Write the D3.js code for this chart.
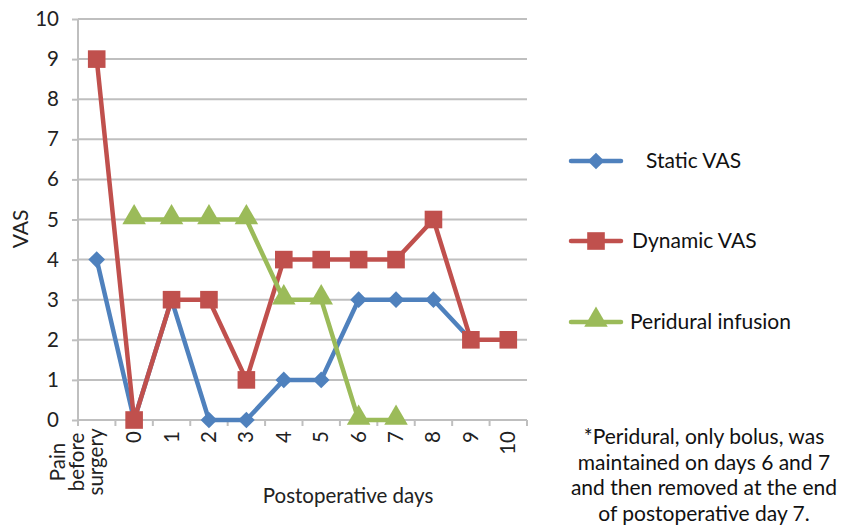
<!DOCTYPE html>
<html><head><meta charset="utf-8">
<script src="https://cdn.jsdelivr.net/npm/d3@7"></script>
<style>body{margin:0;background:#fff}svg{display:block;font-family:Lato,"Open Sans",sans-serif}</style>
</head><body><svg id="c" width="842" height="526"></svg>
<script>
const categories = ["Pain before surgery","0","1","2","3","4","5","6","7","8","9","10"];
const staticVAS   = [4,0,3,0,0,1,1,3,3,3,2,null];
const dynamicVAS  = [9,0,3,3,1,4,4,4,4,5,2,2];
const peridural   = [null,5,5,5,5,3,3,0,0,null,null,null];
const yTicks = [0,1,2,3,4,5,6,7,8,9,10];
const seriesNames = ["Static VAS","Dynamic VAS","Peridural infusion"];

const svg = d3.select("#c");
const L=78,R=527,T=19,B=420;
const x = d3.scaleBand().domain(categories).range([L,R]);
const y = d3.scaleLinear().domain([0,10]).range([B,T]);
const grid="#BFBFBF";

// gridlines
svg.append("g").selectAll("line").data(yTicks.filter(d=>d>0)).join("line")
  .attr("x1",L).attr("x2",R).attr("y1",d=>y(d)).attr("y2",d=>y(d))
  .attr("stroke",grid).attr("stroke-width",2);

// y axis
const ya = svg.append("g").attr("transform",`translate(${L},0)`)
  .call(d3.axisLeft(y).tickValues(yTicks).tickSize(6).tickPadding(13).tickFormat(d3.format("d")));
ya.select(".domain").attr("stroke",grid).attr("stroke-width",2).attr("d",`M0,${T}V${B}`);
ya.selectAll(".tick line").attr("stroke",grid).attr("stroke-width",2);
ya.selectAll("text").attr("font-size",20.5).attr("fill","#222").attr("font-family","Lato");

// x axis
const xa = svg.append("g").attr("transform",`translate(0,${B})`);
xa.append("line").attr("x1",L).attr("x2",R).attr("stroke",grid).attr("stroke-width",2);
const bounds = categories.map(c=>x(c)).concat([R]);
xa.selectAll("line.t").data(bounds).join("line").attr("class","t")
  .attr("x1",d=>d).attr("x2",d=>d).attr("y1",0).attr("y2",6).attr("stroke",grid).attr("stroke-width",2);
const cx = c=>x(c)+x.bandwidth()/2;
categories.slice(1).forEach(c=>{
  xa.append("text").attr("transform",`translate(${cx(c)+7},11) rotate(-90)`)
    .attr("text-anchor","end").attr("font-size",20.5).attr("fill","#222").text(c);
});
// first category label in 3 lines
const first = categories[0];
const words = first.split(" ");
words.forEach((w,i)=>{
  xa.append("text").attr("transform",`translate(${cx(first)-32+i*19},42) rotate(-90)`)
    .attr("text-anchor","middle").attr("font-size",20.5).attr("fill","#222").text(w);
});

// axis titles
svg.append("text").attr("transform","translate(28,229) rotate(-90)").attr("text-anchor","middle")
  .attr("font-size",21).attr("fill","#222").text("VAS");
svg.append("text").attr("x",348).attr("y",503).attr("text-anchor","middle")
  .attr("font-size",20.5).attr("fill","#222").text("Postoperative days");

const colors=["#4F81BD","#C0504D","#9BBB59"];
const data=[staticVAS,dynamicVAS,peridural];
const symbols=[d3.symbolSquare,d3.symbolSquare,d3.symbolTriangle];
const sizes=[140,310,240];
const rot=["rotate(45)","",""];
const dy=[0,0,-2];
const line = d3.line().defined(d=>d.v!=null).x(d=>cx(d.c)).y(d=>y(d.v));

data.forEach((arr,i)=>{
  const pts = arr.map((v,j)=>({c:categories[j],v}));
  const g = svg.append("g");
  g.append("path").attr("d",line(pts)).attr("fill","none").attr("stroke",colors[i]).attr("stroke-width",4.5).attr("stroke-linejoin","round");
  const sym = d3.symbol().type(symbols[i]).size(sizes[i]);
  g.selectAll("path.m").data(pts.filter(d=>d.v!=null)).join("path").attr("class","m")
    .attr("d",sym).attr("fill",colors[i])
    .attr("transform",d=>`translate(${cx(d.c)},${y(d.v)+dy[i]}) ${rot[i]}`);
});

// legend
const ly=[161,241,322], lx=[646,632,630];
seriesNames.forEach((n,i)=>{
  const g=svg.append("g");
  g.append("line").attr("x1",571).attr("x2",621).attr("y1",ly[i]).attr("y2",ly[i]).attr("stroke",colors[i]).attr("stroke-width",4.5).attr("stroke-linecap","round");
  g.append("path").attr("d",d3.symbol().type(symbols[i]).size(sizes[i])()).attr("fill",colors[i])
    .attr("transform",`translate(596,${ly[i]+dy[i]}) ${rot[i]}`);
  g.append("text").attr("x",lx[i]).attr("y",ly[i]+7).attr("font-size",21).attr("fill","#111").text(n);
});

// note
const note=["*Peridural, only bolus, was","maintained on days 6 and 7","and then removed at the end","of postoperative day 7."];
note.forEach((t,i)=>svg.append("text").attr("x",704).attr("y",444+i*25.5).attr("text-anchor","middle")
  .attr("font-size",21).attr("fill","#111").text(t));
</script></body></html>
